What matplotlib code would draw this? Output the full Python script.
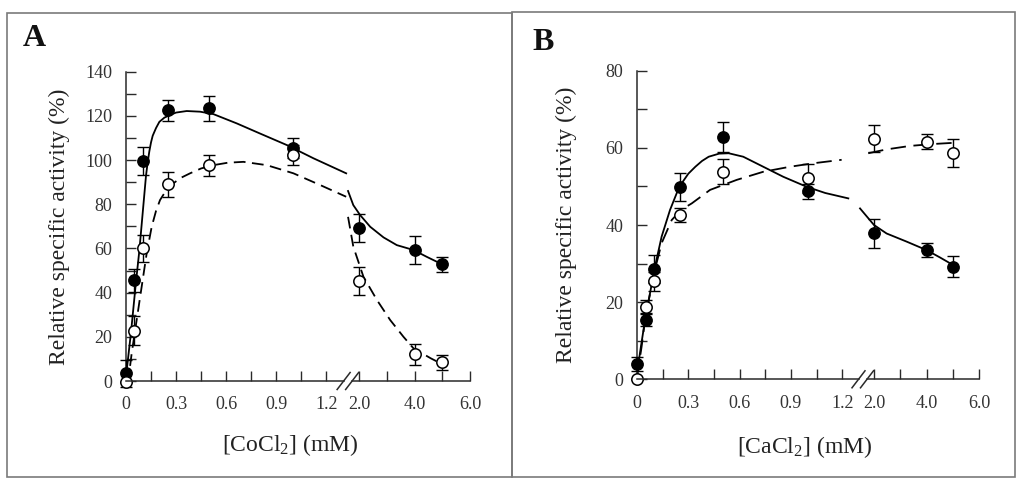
import numpy as np
import matplotlib
matplotlib.use("Agg")
import matplotlib.pyplot as plt
from matplotlib.lines import Line2D
from matplotlib.patches import Rectangle
from matplotlib.transforms import IdentityTransform

plt.rcParams['font.family'] = ['Liberation Serif', 'DejaVu Serif']
plt.rcParams['mathtext.fontset'] = 'custom'
plt.rcParams['mathtext.rm'] = 'Liberation Serif'
plt.rcParams['mathtext.it'] = 'Liberation Serif:italic'

# ---------------- data ----------------
conc = [0, 0.05, 0.1, 0.25, 0.5, 1.0, 2.0, 4.0, 5.0]

# Panel A (CoCl2)
A_filled = [3.5, 45.5, 99.7, 122.5, 123.4, 105.6, 69.1, 59.3, 52.9]
A_filled_err = [6.0, 5.0, 6.4, 4.9, 5.6, 4.6, 6.4, 6.4, 3.4]
A_open = [-0.6, 22.8, 60.0, 89.0, 97.7, 102.3, 45.2, 12.0, 8.5]
A_open_err = [0.0, 6.6, 6.0, 5.7, 4.7, 4.4, 6.4, 4.6, 3.4]

A_solid_left_x = [0, 0.03, 0.06, 0.08, 0.10, 0.12, 0.13, 0.14, 0.15, 0.16, 0.18, 0.20, 0.23, 0.264,
                  0.30, 0.364, 0.444, 0.524, 0.664, 0.804, 0.964, 1.124, 1.32]
A_solid_left_y = [2, 22, 45, 59, 76, 93, 99, 104, 108, 111, 114.5, 117.3, 119.2, 120.4,
                  121.5, 122.2, 121.9, 120.8, 116.6, 112, 106.8, 100.8, 94]
A_solid_right_x = [1.60, 1.79, 2.036, 2.40, 2.88, 3.36, 3.96, 4.44, 4.98]
A_solid_right_y = [86, 79.6, 75.1, 69.8, 65, 61.5, 59.3, 56.2, 52.9]
A_dash_left_x = [0, 0.014, 0.034, 0.064, 0.094, 0.124, 0.154, 0.18, 0.204, 0.24, 0.284, 0.33,
                 0.384, 0.45, 0.524, 0.61, 0.704, 0.844, 1.004, 1.164, 1.32]
A_dash_left_y = [-1, 0.4, 12.5, 27.6, 42.7, 57.8, 69.8, 77, 81.9, 86.2, 89.5, 92,
                 94, 96.2, 97.7, 98.8, 99.2, 97.7, 94, 88.7, 83.4]
A_dash_right_x = [1.60, 1.79, 2.155, 2.64, 3.12, 3.6, 3.96, 4.58, 5.06]
A_dash_right_y = [74.3, 60.8, 47.2, 36.7, 27.6, 20, 14.8, 10.3, 7.2]

# Panel B (CaCl2)
B_filled = [3.9, 15.5, 28.6, 49.9, 62.8, 48.7, 37.8, 33.5, 29.2]
B_filled_err = [1.8, 1.8, 3.6, 3.7, 3.8, 1.9, 3.7, 1.9, 2.7]
B_open = [0, 18.8, 25.4, 42.6, 53.8, 52.1, 62.4, 61.6, 58.6]
B_open_err = [0, 1.8, 2.5, 1.9, 3.3, 3.8, 3.5, 2.0, 3.6]

B_solid_left_x = [0, 0.023, 0.047, 0.076, 0.105, 0.144, 0.193, 0.247, 0.30, 0.341, 0.38, 0.419,
                  0.48, 0.536, 0.621, 0.738, 0.855, 0.992, 1.10, 1.235]
B_solid_left_y = [1.6, 8.5, 15.4, 22.3, 29.2, 37, 43.9, 49.9, 53.3, 55.1, 56.6, 57.7,
                  58.5, 58.6, 57.7, 55.1, 52.5, 49.9, 48.3, 46.9]
B_solid_right_x = [1.467, 2.0, 2.48, 3.24, 4.0, 4.51, 5.02]
B_solid_right_y = [44.3, 40, 37.8, 35.7, 33.5, 31.6, 29.6]
B_dash_left_x = [0, 0.027, 0.05, 0.08, 0.105, 0.144, 0.203, 0.26, 0.32, 0.427, 0.583, 0.738,
                 0.894, 1.03, 1.196]
B_dash_left_y = [0.5, 8.5, 16.5, 23, 28.5, 35.3, 41.3, 44, 45.6, 49.1, 51.7, 53.8,
                 55.1, 56, 56.9]
B_dash_right_x = [1.78, 2.48, 3.37, 4.26, 5.02]
B_dash_right_y = [58.6, 59.6, 60.5, 61.0, 61.3]

x_major = [0, 0.3, 0.6, 0.9, 1.2, 2.0, 4.0, 6.0]
x_major_labels = ['0', '0.3', '0.6', '0.9', '1.2', '2.0', '4.0', '6.0']
x_minor = [0.15, 0.45, 0.75, 1.05, 3.0, 5.0]

INK = '#2a2a2a'


def make_scale(xl, xr, u2, k):
    def ur(x):
        return u2 + k * (x - 2.0)
    xk = np.array([-10.0, 0.0, xl, xr, 6.0, 100.0])
    uk = np.array([-10.0, 0.0, xl, ur(xr), ur(6.0), ur(100.0)])

    def fwd(x):
        return np.interp(x, xk, uk)

    def inv(u):
        return np.interp(u, uk, xk)
    return fwd, inv


fig = plt.figure(figsize=(10.24, 4.87), dpi=100)

# panel frames
for (x0, y0, x1, y1) in [(7, 12.5, 511.7, 477), (511.7, 11.7, 1015, 477)]:
    fig.add_artist(Rectangle((x0 / 1024, 1 - y1 / 487), (x1 - x0) / 1024, (y1 - y0) / 487,
                             transform=fig.transFigure, fill=False, edgecolor='#7a7a7a',
                             linewidth=1.2))

axA = fig.add_axes([126 / 1024, (487 - 381) / 487, 344 / 1024, 309.3 / 487])
axB = fig.add_axes([637 / 1024, (487 - 379.3) / 487, 342 / 1024, 308.6 / 487])


def panel(ax, scale, ymax, ymajor, yminor, filled, ferr, opn, oerr,
          sl, sr, dl, dr, dashes, xlabel, ylab_x, xlab_xy, letter, letter_xy):
    ax.set_xscale('function', functions=scale)
    ax.set_xlim(0, 6.0)
    ax.set_ylim(0, ymax)
    for s in ['top', 'right', 'bottom']:
        ax.spines[s].set_visible(False)
    ax.spines['left'].set_color(INK)
    ax.spines['left'].set_linewidth(1.1)

    ax.set_xticks(x_major)
    ax.set_xticklabels(x_major_labels)
    ax.set_xticks(x_minor, minor=True)
    ax.set_yticks(ymajor)
    ax.set_yticks(yminor, minor=True)
    ax.tick_params(which='both', direction='in', length=7.5, width=1.0, color=INK,
                   labelsize=13, labelcolor='#333333')
    ax.tick_params(axis='y', which='both', pad=10)
    ax.tick_params(axis='x', which='both', pad=11)

    # curves
    ax.plot(sl[0], sl[1], color='black', lw=1.3, zorder=2)
    ax.plot(sr[0], sr[1], color='black', lw=1.3, zorder=2)
    ax.plot(dl[0], dl[1], color='black', lw=1.3, dashes=dashes, zorder=2)
    ax.plot(dr[0], dr[1], color='black', lw=1.3, dashes=dashes, zorder=2)

    # error bars
    ax.errorbar(conc, filled, yerr=ferr, fmt='none', ecolor='black', elinewidth=1.0,
                capsize=4.0, capthick=1.0, zorder=3, clip_on=False)
    ax.errorbar(conc, opn, yerr=oerr, fmt='none', ecolor='black', elinewidth=1.0,
                capsize=4.0, capthick=1.0, zorder=3, clip_on=False)
    # markers
    ax.plot(conc, filled, 'o', ms=8.2, mfc='black', mec='black', mew=1.0,
            zorder=5, clip_on=False)
    ax.plot(conc, opn, 'o', ms=8.2, mfc='white', mec='black', mew=1.1,
            zorder=5, clip_on=False)

    ax.set_xlabel(xlabel, fontsize=17, color='#222222')
    ax.set_ylabel('Relative specific activity (%)', fontsize=17, color='#222222')
    ax.yaxis.set_label_coords(ylab_x, 0.5)
    ax.xaxis.set_label_coords(*xlab_xy)
    fig.text(letter_xy[0] / 1024, 1 - letter_xy[1] / 487, letter, fontsize=23,
             fontweight='bold', ha='center', va='center', color='#111111')


scaleA = make_scale(1.33, 1.60, (359 - 126) / 166.7, 27.7 / 166.7)
scaleB = make_scale(1.24, 1.30, (874 - 637) / 171.1, 26.25 / 171.1)

panel(axA, scaleA, 140, list(range(0, 141, 20)), list(range(10, 140, 20)),
      A_filled, A_filled_err, A_open, A_open_err,
      (A_solid_left_x, A_solid_left_y), (A_solid_right_x, A_solid_right_y),
      (A_dash_left_x, A_dash_left_y), (A_dash_right_x, A_dash_right_y),
      (6.5, 3.6), r'[CoCl$_{2}$] (mM)', -0.163, (0.477, -0.165), 'A', (34, 38))
panel(axB, scaleB, 80, list(range(0, 81, 20)), list(range(10, 80, 20)),
      B_filled, B_filled_err, B_open, B_open_err,
      (B_solid_left_x, B_solid_left_y), (B_solid_right_x, B_solid_right_y),
      (B_dash_left_x, B_dash_left_y), (B_dash_right_x, B_dash_right_y),
      (8.5, 4.2), r'[CaCl$_{2}$] (mM)', -0.175, (0.491, -0.178), 'B', (543, 42.5))

# broken bottom axis with "//" marks
fig.canvas.draw()
for ax in (axA, axB):
    xt = ax.get_xaxis_transform()
    x2, y0 = xt.transform((2.0, 0.0))
    xa, _ = xt.transform((0.0, 0.0))
    xb, _ = xt.transform((6.0, 0.0))
    c1, c2 = x2 - 15.5, x2 - 7.0
    segs = [([xa, c1], [y0, y0]), ([c2, xb], [y0, y0]),
            ([c1 - 6.5, c1 + 6.5], [y0 - 8.5, y0 + 8.5]),
            ([c2 - 6.5, c2 + 6.5], [y0 - 8.5, y0 + 8.5])]
    for xs, ys in segs:
        fig.add_artist(Line2D(xs, ys, transform=IdentityTransform(), color=INK, lw=1.1))

fig.savefig('out.png', dpi=100)
